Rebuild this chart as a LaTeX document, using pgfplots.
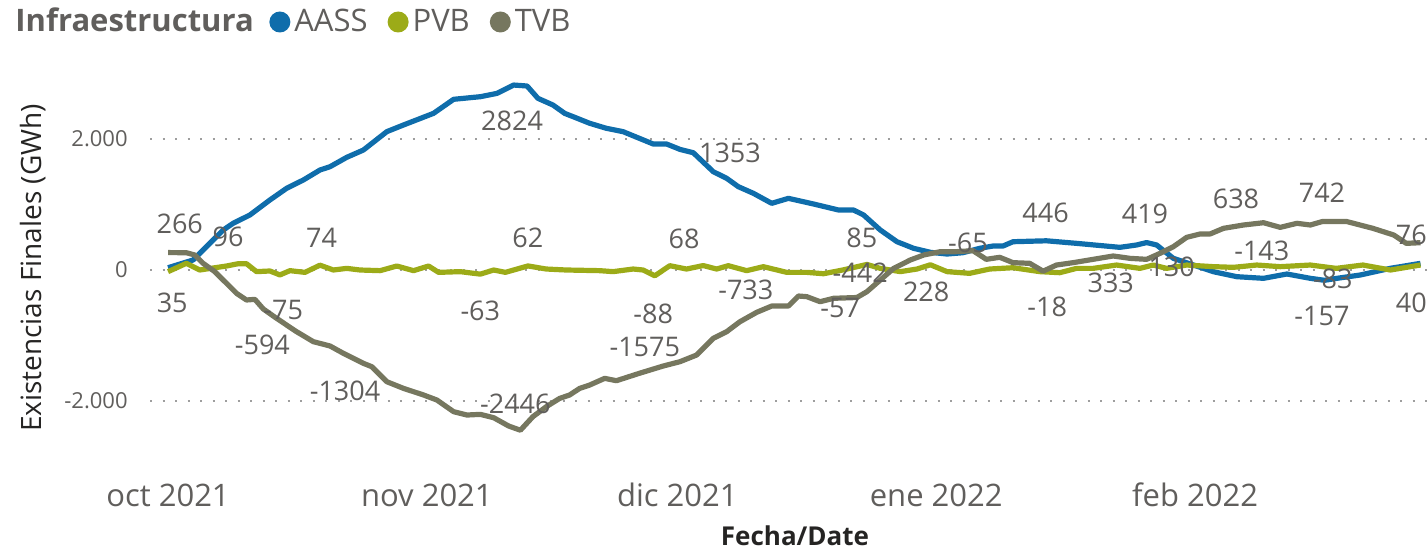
\documentclass[border=0pt]{standalone}
\usepackage{fontspec}
\setmainfont{Open Sans}
\usepackage{pgfplots}
\pgfplotsset{compat=1.18}
\definecolor{aass}{HTML}{0F6DAB}
\definecolor{pvb}{HTML}{9CAB18}
\definecolor{tvb}{HTML}{76775F}
\definecolor{txt}{HTML}{605E5C}
\definecolor{dark}{HTML}{252423}
\definecolor{gridc}{HTML}{9E9E9E}
\tikzset{lbl/.style={font=\fontsize{13.5}{16}\selectfont, text=txt, inner sep=0pt, anchor=center}}
\begin{document}
\begin{tikzpicture}
\begin{axis}[
  scale only axis, width=639pt, height=189.95pt,
  at={(75pt,-226.7pt)}, anchor=south west,
  xmin=-2.16, xmax=150.9, ymin=-2800, ymax=3000,
  axis line style={draw=none}, major tick length=0pt,
  ymajorgrids, grid style={gridc, line width=1pt, dash pattern=on 1pt off 5.25pt},
  xtick={0,31,61,92,123},
  xticklabels={oct 2021,nov 2021,dic 2021,ene 2022,feb 2022},
  ytick={-2000,0,2000}, yticklabels={-2.000,0,2.000},
  xticklabel style={font=\fontsize{15.5}{18}\selectfont, text=txt, anchor=center, yshift=-20.8pt},
  yticklabel style={font=\fontsize{11}{13}\selectfont, text=txt, anchor=east, inner sep=0pt, xshift=-11pt},
  ylabel={Existencias Finales (GWh)},
  ylabel style={at={(axis description cs:-0.0915,0.488)}, anchor=center, font=\fontsize{14}{16}\selectfont, text=dark},
  xlabel={Fecha/Date},
  xlabel style={at={(axis description cs:0.5047,-0.2165)}, anchor=center, font=\bfseries\fontsize{13}{15}\selectfont, text=dark},
  title={Infraestructura},
  title style={at={(axis description cs:-0.1056,1.1356)}, anchor=west, yshift=-5pt, font=\bfseries\fontsize{15.5}{18}\selectfont, text=txt, inner sep=0pt},
  legend style={at={(axis description cs:0.0931,1.1356)}, anchor=west, draw=none, fill=none,
    legend columns=-1, inner sep=0pt, font=\fontsize{15.5}{18}\selectfont, text=txt,
    /tikz/every even column/.append style={column sep=8pt}},
  legend image code/.code={\fill[#1,draw=none] (5.25pt,0pt) circle (5.25pt);},
  every axis plot/.append style={line width=2.6pt, line join=round},
]
\addplot[aass] coordinates {(0,35)(3.0,153)(4.2,305)(6.6,610)(7.8,713)(9.8,840)(12.2,1069)(14.2,1247)(16.2,1374)(18.2,1527)(19.4,1577)(21.4,1720)(23.4,1832)(26.2,2112)(28.2,2214)(31.8,2392)(34.2,2606)(37.4,2646)(39.4,2697)(41.4,2824)(43.0,2809)(44.3,2621)(46.1,2519)(47.5,2392)(50.5,2240)(52.5,2163)(54.5,2112)(58.1,1924)(59.7,1924)(61.3,1842)(62.9,1791)(65.3,1501)(66.9,1400)(68.3,1272)(70.1,1171)(72.3,1018)(74.3,1094)(77.3,1008)(80.3,916)(82.1,916)(83.3,840)(85.3,611)(87.3,432)(89.3,331)(91.3,270)(93.3,244)(95.2,264)(97.2,331)(98.8,366)(100.0,366)(101.2,432)(105.2,446)(108.8,407)(114.0,346)(116.0,382)(117.2,419)(118.4,382)(120.4,178)(122.8,76)(125.2,-26)(128.0,-102)(131.2,-127)(134.0,-61)(136.8,-127)(138.5,-157)(140.0,-127)(142.8,-76)(146.4,26)(150,102)};
\addlegendentry{AASS}
\addplot[pvb] coordinates {(0,-25)(2.2,102)(3.8,0)(7.0,61)(8.4,96)(9.4,96)(10.6,-25)(12.2,-15)(13.4,-75)(14.6,-10)(16.4,-36)(18.2,74)(19.8,0)(21.4,25)(23.0,0)(25.4,-10)(27.4,61)(29.4,-10)(31.2,61)(32.4,-36)(35.0,-25)(37.4,-63)(39.0,0)(40.4,-36)(43.1,62)(45.3,15)(47.7,0)(51.7,-10)(53.3,-25)(55.7,15)(56.9,0)(58.3,-88)(60.1,66)(62.1,15)(64.1,68)(65.7,15)(67.1,66)(69.3,-10)(71.3,51)(74.1,-36)(76.5,-36)(78.5,-57)(80.8,0)(83.7,85)(85.3,25)(87.7,-25)(89.7,15)(91.3,80)(93.3,-25)(96.0,-51)(98.4,15)(101.2,35)(104.4,-25)(106.8,-41)(108.8,25)(110.8,25)(113.6,76)(116.4,25)(118.0,76)(119.6,25)(122.0,76)(125.2,51)(127.6,41)(130.4,76)(133.2,51)(136.8,76)(139.9,25)(143.1,76)(146.4,0)(150,76)};
\addlegendentry{PVB}
\addplot[tvb] coordinates {(0,266)(2.2,264)(3.2,229)(4.2,102)(5.6,-25)(7.0,-203)(8.2,-356)(9.4,-458)(10.4,-448)(11.4,-594)(13.0,-738)(15.4,-942)(17.4,-1094)(19.4,-1160)(21.0,-1272)(23.4,-1425)(24.4,-1476)(26.2,-1705)(28.2,-1807)(30.6,-1908)(32.2,-1985)(34.2,-2163)(35.8,-2214)(37.4,-2204)(39.0,-2255)(40.8,-2382)(42.2,-2446)(43.7,-2239)(45.3,-2087)(46.9,-1960)(48.1,-1908)(49.3,-1807)(50.5,-1756)(52.3,-1654)(53.7,-1690)(56.5,-1575)(59.3,-1466)(61.3,-1400)(63.3,-1298)(65.3,-1043)(66.9,-942)(68.5,-789)(70.5,-646)(72.3,-550)(74.3,-550)(75.5,-397)(76.5,-407)(78.1,-484)(79.7,-432)(82.5,-420)(83.7,-331)(85.3,-153)(86.9,25)(88.9,153)(90.5,229)(92.5,280)(94.4,280)(96.4,295)(98.0,163)(99.6,194)(101.2,112)(103.2,102)(104.8,-18)(106.4,76)(108.4,112)(110.8,163)(113.2,214)(115.2,178)(117.2,163)(118.8,254)(120.4,356)(122.0,499)(123.6,550)(124.8,550)(126.4,636)(128.8,687)(131.2,722)(133.2,651)(135.2,713)(136.8,687)(138.3,742)(141.1,742)(144.3,636)(146.8,534)(148.3,407)(150,417)};
\addlegendentry{TVB}
\node[lbl] at (axis cs:1.4,702) {266};
\node[lbl] at (axis cs:0.5,-504) {35};
\node[lbl] at (axis cs:7.2,504) {96};
\node[lbl] at (axis cs:18.4,489) {74};
\node[lbl] at (axis cs:13.8,-611) {-75};
\node[lbl] at (axis cs:11.3,-1145) {-594};
\node[lbl] at (axis cs:21.2,-1847) {-1304};
\node[lbl] at (axis cs:43.1,489) {62};
\node[lbl] at (axis cs:37.4,-626) {-63};
\node[lbl] at (axis cs:41.2,2275) {2824};
\node[lbl] at (axis cs:41.6,-2046) {-2446};
\node[lbl] at (axis cs:67.3,1786) {1353};
\node[lbl] at (axis cs:61.8,473) {68};
\node[lbl] at (axis cs:58.1,-672) {-88};
\node[lbl] at (axis cs:57.1,-1176) {-1575};
\node[lbl] at (axis cs:69.2,-305) {-733};
\node[lbl] at (axis cs:83.1,489) {85};
\node[lbl] at (axis cs:82.9,-46) {-442};
\node[lbl] at (axis cs:80.5,-580) {-57};
\node[lbl] at (axis cs:90.8,-336) {228};
\node[lbl] at (axis cs:95.8,412) {-65};
\node[lbl] at (axis cs:105.1,870) {446};
\node[lbl] at (axis cs:105.3,-565) {-18};
\node[lbl] at (axis cs:117.0,855) {419};
\node[lbl] at (axis cs:112.9,-198) {333};
\node[lbl] at (axis cs:120.2,46) {130};
\node[lbl] at (axis cs:127.9,1084) {638};
\node[lbl] at (axis cs:138.2,1176) {742};
\node[lbl] at (axis cs:131.0,290) {-143};
\node[lbl] at (axis cs:139.5,-137) {-83};
\node[lbl] at (axis cs:138.2,-702) {-157};
\node[lbl, anchor=east] at (axis cs:150.8,534) {76};
\node[lbl, anchor=east] at (axis cs:150.8,-504) {40};
\end{axis}
\pgfresetboundingbox
\path[use as bounding box] (0pt,0pt) rectangle (714pt,-276pt);
\end{tikzpicture}
\end{document}
